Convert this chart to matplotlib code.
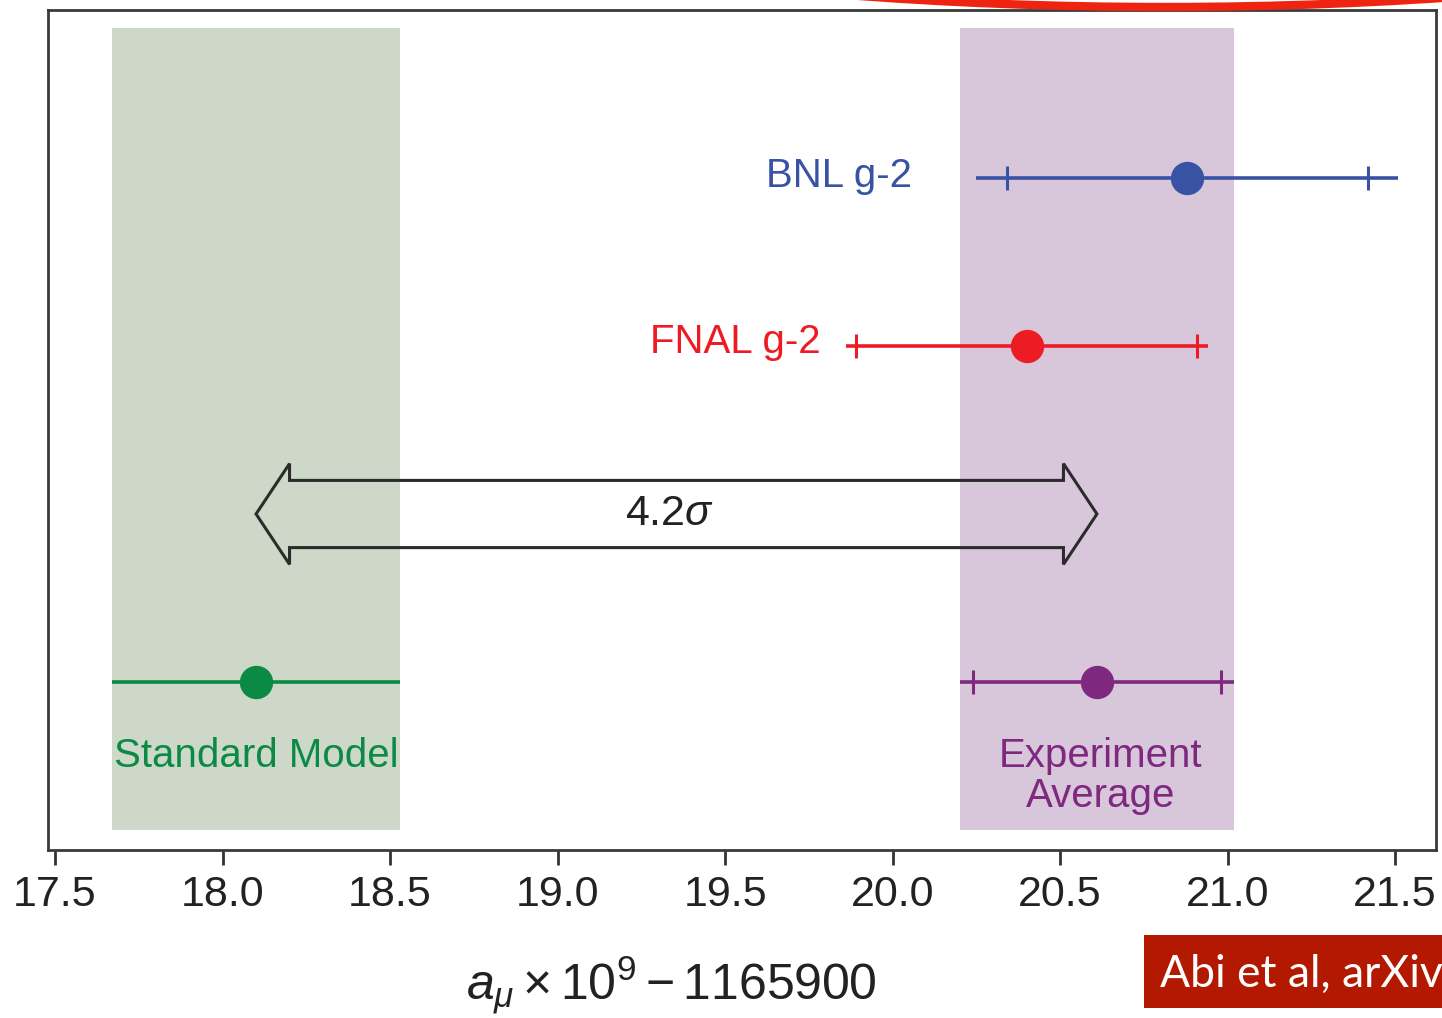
import matplotlib
matplotlib.use("Agg")
import matplotlib.pyplot as plt
from matplotlib.patches import Polygon, Rectangle, Ellipse

plt.rcParams['font.family'] = ['Liberation Sans', 'DejaVu Sans']
plt.rcParams['mathtext.fontset'] = 'custom'
plt.rcParams['mathtext.rm'] = 'Liberation Sans'
plt.rcParams['mathtext.it'] = 'Liberation Sans:italic'

# a_mu x 1e9 - 1165900
labels = ['Standard Model', 'Experiment\nAverage', 'FNAL g-2', 'BNL g-2']
values = [18.10, 20.61, 20.40, 20.88]
total_err = [0.43, 0.41, 0.54, 0.63]
stat_err = [None, 0.37, 0.51, 0.54]
rows = [1, 1, 3, 4]
colors = ['#0B8A45', '#7E2880', '#ED1C24', '#3953A4']
band_colors = ['#CDD8C8', '#D8C7DA']
tension = '4.2$\\sigma$'
xticks = [17.5, 18.0, 18.5, 19.0, 19.5, 20.0, 20.5, 21.0, 21.5]

fig = plt.figure(figsize=(14.42, 10.18), dpi=100)
ax = fig.add_axes([48 / 1442, 168 / 1018, 1388 / 1442, 840 / 1018])
ax.set_xlim(17.479, 21.622)
ax.set_ylim(0, 5)

# bands for SM and experiment average
for i, bc in zip([0, 1], band_colors):
    ax.axvspan(values[i] - total_err[i], values[i] + total_err[i],
               ymin=0.024, ymax=0.979, color=bc, lw=0, zorder=0)

for i in range(len(values)):
    ax.errorbar(values[i], rows[i], xerr=total_err[i], fmt='o', color=colors[i],
                ms=23, elinewidth=2.6, capsize=0, zorder=3)
    if stat_err[i] is not None:
        ax.plot([values[i] - stat_err[i], values[i] + stat_err[i]], [rows[i]] * 2,
                ls='none', marker='|', ms=17, mew=2.2, color=colors[i], zorder=3)

# double arrow between SM and experiment average
x0, x1 = values[0], values[1]
hl, sw, hw, yc = 0.10, 0.20, 0.30, 2.0
arrow = [(x0, yc), (x0 + hl, yc + hw), (x0 + hl, yc + sw), (x1 - hl, yc + sw),
         (x1 - hl, yc + hw), (x1, yc), (x1 - hl, yc - hw), (x1 - hl, yc - sw),
         (x0 + hl, yc - sw), (x0 + hl, yc - hw)]
ax.add_patch(Polygon(arrow, closed=True, fill=False, ec='#2b2b2b', lw=2.2, zorder=2))
ax.text((x0 + x1) / 2 - 0.02, yc, tension, ha='center', va='center', fontsize=31, color='#222222')

ax.text(values[0], 0.494, labels[0], ha='center', va='baseline', fontsize=29, color=colors[0])
ax.text(values[1] + 0.01, 0.44, labels[1], ha='center', va='center', fontsize=29,
        color=colors[1], linespacing=1.05, multialignment='center')
ax.text(19.784, 2.958, labels[2], ha='right', va='baseline', fontsize=29, color=colors[2])
ax.text(20.058, 3.946, labels[3], ha='right', va='baseline', fontsize=29, color=colors[3])

ax.set_yticks([])
ax.set_xticks(xticks)
ax.set_xticklabels([f'{t:.1f}' for t in xticks])
ax.tick_params(axis='x', direction='out', length=11, width=2, pad=7,
               labelsize=31, colors='#333333', labelcolor='#222222')
for s in ax.spines.values():
    s.set_linewidth(2)
    s.set_color('#3a3a3a')

ax.set_xlabel('$a_\\mu \\times 10^{9} - 1165900$', fontsize=36, color='#222222')
ax.xaxis.set_label_coords((671 - 48) / 1388, -0.123)

# red highlight arc at the top and citation box
fig.patches.append(Ellipse((1165 / 1442, 1176 / 1018), 1700 / 1442, 330 / 1018,
                           transform=fig.transFigure, fill=False, ec='#EE2410', lw=6))
fig.patches.append(Rectangle((1144 / 1442, 10 / 1018), 320 / 1442, 73 / 1018,
                             transform=fig.transFigure, fc='#B31800', ec='none'))
fig.text(1160 / 1442, 31 / 1018, 'Abi et al, arXiv:2104.03281', color='white',
         fontsize=32, family=['Lato', 'DejaVu Sans'], va='baseline')

fig.savefig('out.png', dpi=100)
